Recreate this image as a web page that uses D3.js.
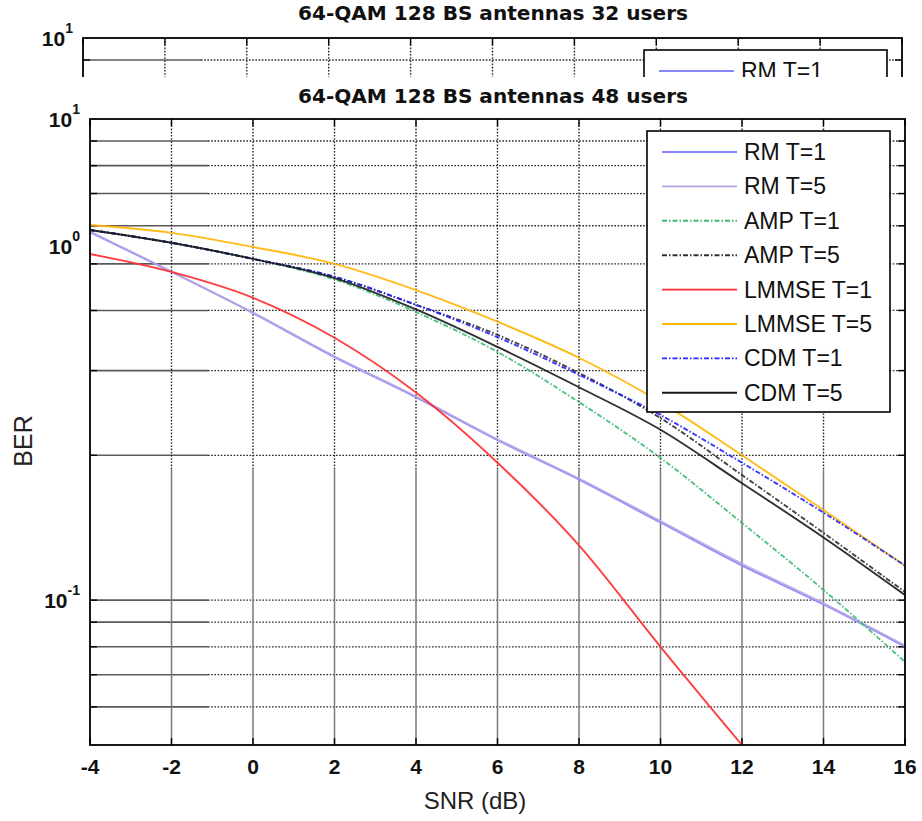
<!DOCTYPE html>
<html>
<head>
<meta charset="utf-8">
<script src="https://cdn.jsdelivr.net/npm/d3@7"></script>
<style>
  body { margin: 0; background: #fff; }
  svg { display: block; }
</style>
</head>
<body>
<svg id="chart" width="922" height="821"></svg>
<script>
// SNR grid (dB)
const snr = [-4, -2, 0, 2, 4, 6, 8, 10, 12, 14, 16];

// BER curves, 48 users
const rmT1    = [0.582, 0.481, 0.395, 0.320, 0.264, 0.215, 0.178, 0.145, 0.118, 0.098, 0.080];
const rmT5    = [0.584, 0.482, 0.396, 0.321, 0.265, 0.216, 0.179, 0.146, 0.119, 0.0985, 0.0805];
const ampT1   = [0.588, 0.553, 0.512, 0.464, 0.397, 0.328, 0.258, 0.1975, 0.1447, 0.105, 0.0744];
const ampT5   = [0.588, 0.553, 0.512, 0.470, 0.411, 0.356, 0.2965, 0.239, 0.182, 0.138, 0.104];
const lmmseT1 = [0.524, 0.481, 0.425, 0.351, 0.270, 0.193, 0.130, 0.080, 0.050];
const lmmseT5 = [0.602, 0.580, 0.542, 0.500, 0.441, 0.379, 0.319, 0.258, 0.200, 0.154, 0.118];
const cdmT1   = [0.588, 0.553, 0.512, 0.470, 0.411, 0.352, 0.294, 0.2425, 0.193, 0.152, 0.118];
const cdmT5   = [0.588, 0.553, 0.512, 0.467, 0.402, 0.336, 0.277, 0.226, 0.175, 0.135, 0.1025];

const seriesNames  = ["RM T=1", "RM T=5", "AMP T=1", "AMP T=5", "LMMSE T=1", "LMMSE T=5", "CDM T=1", "CDM T=5"];
const seriesValues = [rmT1, rmT5, ampT1, ampT5, lmmseT1, lmmseT5, cdmT1, cdmT5];
const seriesColors = ["#8585ff", "#b9a2e0", "#3dbb74", "#303030", "#ff2b2b", "#ffb400", "#2424ff", "#1a1a1a"];
const seriesDash   = [null, null, "5,2,1.5,2", "5,2,1.5,2", null, null, "5,2,1.5,2", null];

// axis labelling
const xTickValues = [-4, -2, 0, 2, 4, 6, 8, 10, 12, 14, 16];
const yLabelValues = [1.0, 0.545, 0.1];
const yLabelExps   = ["1", "0", "-1"];

const titleTop  = "64-QAM 128 BS antennas 32 users";
const titleMain = "64-QAM 128 BS antennas 48 users";

const svg = d3.select("#chart");
svg.append("rect").attr("width", 922).attr("height", 821).attr("fill", "#fff");
const defs = svg.append("defs");

function drawPanel(p) {
  const g = svg.append("g");
  if (p.clipId) {
    defs.append("clipPath").attr("id", p.clipId)
      .append("rect").attr("x", 0).attr("y", 0).attr("width", 922).attr("height", p.clipBottom);
    g.attr("clip-path", `url(#${p.clipId})`);
  }
  const x = d3.scaleLinear().domain([-4, 16]).range([p.left, p.right]);
  const y = d3.scaleLog().domain([0.05, 1]).range([p.bottom, p.top]);
  const yGrid = y.ticks().filter(v => v > 0.0501 && v < 0.999 && y(v) < p.visibleBottom);
  const solidEnd = p.left + 118;

  // horizontal grid: solid on the left stretch, dotted beyond
  const hg = g.append("g");
  yGrid.forEach(v => {
    hg.append("line").attr("x1", p.left).attr("x2", solidEnd)
      .attr("y1", y(v)).attr("y2", y(v))
      .attr("stroke", "#5a5a5a").attr("stroke-width", 1.6);
    hg.append("line").attr("x1", solidEnd).attr("x2", p.right)
      .attr("y1", y(v)).attr("y2", y(v))
      .attr("stroke", "#2a2a2a").attr("stroke-width", 1.3).attr("stroke-dasharray", "1.6,1.6");
  });

  // vertical grid: dotted in the upper part, solid grey lower down
  const vg = g.append("g");
  const yEnd = Math.min(p.bottom, p.visibleBottom);
  xTickValues.slice(1, -1).forEach(t => {
    vg.append("line").attr("x1", x(t)).attr("x2", x(t))
      .attr("y1", p.top).attr("y2", Math.min(p.split, yEnd))
      .attr("stroke", "#2a2a2a").attr("stroke-width", 1.4).attr("stroke-dasharray", "1.6,1.6");
    if (p.split < yEnd) {
      vg.append("line").attr("x1", x(t)).attr("x2", x(t))
        .attr("y1", p.split).attr("y2", p.bottom)
        .attr("stroke", "#7a7a7a").attr("stroke-width", 1.5);
    }
  });

  // inward tick marks
  const tk = g.append("g").attr("stroke", "#000").attr("stroke-width", 1.4);
  yGrid.forEach(v => {
    tk.append("line").attr("x1", p.left).attr("x2", p.left + 7).attr("y1", y(v)).attr("y2", y(v));
    tk.append("line").attr("x1", p.right - 7).attr("x2", p.right).attr("y1", y(v)).attr("y2", y(v));
  });
  xTickValues.forEach(t => {
    tk.append("line").attr("x1", x(t)).attr("x2", x(t)).attr("y1", p.top).attr("y2", p.top + 7);
    if (p.bottom < p.visibleBottom) {
      tk.append("line").attr("x1", x(t)).attr("x2", x(t)).attr("y1", p.bottom - 7).attr("y2", p.bottom);
    }
  });

  // curves
  if (p.series) {
    const cid = p.plotClip;
    defs.append("clipPath").attr("id", cid)
      .append("rect").attr("x", p.left).attr("y", p.top)
      .attr("width", p.right - p.left).attr("height", p.bottom - p.top);
    const line = d3.line()
      .x(d => x(d[0])).y(d => y(d[1]))
      .curve(d3.curveMonotoneX);
    const lg = g.append("g").attr("clip-path", `url(#${cid})`);
    seriesValues.forEach((vals, i) => {
      const pts = vals.map((v, k) => [snr[k], v]);
      lg.append("path").datum(pts)
        .attr("d", line)
        .attr("fill", "none")
        .attr("stroke", seriesColors[i])
        .attr("stroke-width", 1.9)
        .attr("stroke-opacity", 0.9)
        .attr("stroke-dasharray", seriesDash[i]);
    });
  }

  // frame
  g.append("rect").attr("x", p.left).attr("y", p.top)
    .attr("width", p.right - p.left).attr("height", p.bottom - p.top)
    .attr("fill", "none").attr("stroke", "#000").attr("stroke-width", 1.8);

  // legend (only the rows that fall inside the visible band are drawn)
  const leg = g.append("g");
  const lx = p.right - 258, ly = p.top + 12, lw = 243, lh = 281, rowH = 34.4;
  leg.append("rect").attr("x", lx).attr("y", ly).attr("width", lw).attr("height", lh)
    .attr("fill", "#fff").attr("stroke", "#000").attr("stroke-width", 1.6);
  seriesNames.forEach((name, i) => {
    const ry = ly + 21 + i * rowH;
    if (ry - 12 > p.visibleBottom) return;
    leg.append("line").attr("x1", lx + 15).attr("x2", lx + 90).attr("y1", ry).attr("y2", ry)
      .attr("stroke", seriesColors[i]).attr("stroke-width", 1.9)
      .attr("stroke-dasharray", seriesDash[i]);
    leg.append("text").attr("x", lx + 97).attr("y", ry + 8)
      .attr("font-family", "'Liberation Sans', Arial, sans-serif")
      .attr("font-size", 23).attr("fill", "#111").text(name);
  });

  // x tick labels
  if (p.xLabels) {
    xTickValues.forEach(t => {
      g.append("text").attr("x", x(t)).attr("y", p.bottom + 29)
        .attr("text-anchor", "middle")
        .attr("font-family", "'Liberation Sans', Arial, sans-serif")
        .attr("font-weight", "bold").attr("font-size", 21).attr("fill", "#111")
        .text(t);
    });
  }

  // y tick labels (power-of-ten notation)
  yLabelValues.forEach((v, i) => {
    const ty = y(v) + 8;
    if (ty - 20 > p.visibleBottom) return;
    const t = g.append("text").attr("x", p.left - 10).attr("y", ty)
      .attr("text-anchor", "end")
      .attr("font-family", "'Liberation Sans', Arial, sans-serif")
      .attr("font-weight", "bold").attr("fill", "#111");
    t.append("tspan").attr("font-size", 21).text("10");
    t.append("tspan").attr("font-size", 14).attr("dy", -13).text(yLabelExps[i]);
  });

  // title
  svg.append("text").attr("x", p.titleX).attr("y", p.titleY)
    .attr("font-family", "'DejaVu Sans Condensed', 'DejaVu Sans', sans-serif")
    .attr("font-weight", "bold").attr("font-size", 19).attr("fill", "#111")
    .attr("textLength", 390).attr("lengthAdjust", "spacingAndGlyphs")
    .text(p.title);
  return { x, y };
}

// partially visible upper panel (32 users)
drawPanel({
  left: 83, right: 902, top: 38, bottom: 664, split: 470,
  clipId: "topClip", clipBottom: 77, visibleBottom: 77,
  titleX: 298, titleY: 20, title: titleTop
});

// main panel (48 users)
drawPanel({
  left: 90, right: 905, top: 119, bottom: 745, split: 470, visibleBottom: 821,
  series: true, plotClip: "plotClip", xLabels: true,
  titleX: 298, titleY: 103, title: titleMain
});

// axis titles
svg.append("text").attr("x", 475).attr("y", 809).attr("text-anchor", "middle")
  .attr("font-family", "'Liberation Sans', Arial, sans-serif")
  .attr("font-size", 24).attr("fill", "#222").text("SNR (dB)");
svg.append("text").attr("transform", "translate(32,441) rotate(-90)").attr("text-anchor", "middle")
  .attr("font-family", "'Liberation Sans', Arial, sans-serif")
  .attr("font-size", 25).attr("fill", "#222").text("BER");
</script>
</body>
</html>
